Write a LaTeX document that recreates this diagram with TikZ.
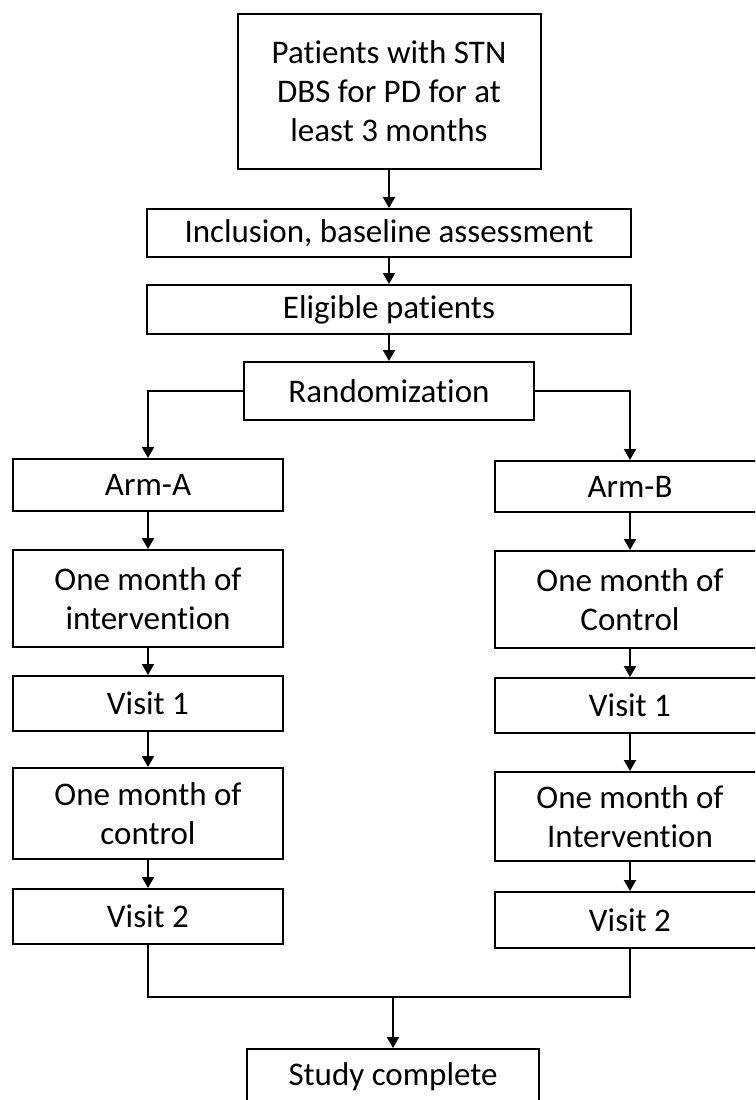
\documentclass[tikz,border=0pt]{standalone}
\usepackage{fontspec}
\setmainfont[Ligatures = CommonOff]{Carlito}
\usetikzlibrary{arrows.meta}

\begin{document}
\begin{tikzpicture}[x = 1pt, y = -1pt, font = \fontsize{33}{39}\selectfont]
	\tikzstyle{boxStyle}=[shape = rectangle, draw, line width = 2pt, inner sep = 0pt, align = center]
	\tikzstyle{lineStyle}=[line width = 2pt]
	\tikzstyle{arrowStyle}=[line width = 2pt, -{Triangle[width = 12pt, length = 11pt]}]
	\useasboundingbox (0, 0) rectangle (755, 1100);
	\clip (0, 0) rectangle (755, 1100);
	\node[boxStyle, minimum width = 303, minimum height = 155] (patients) at (389, 91.5) {Patients with STN\\DBS for PD for at\\least 3 months};
	\node[boxStyle, minimum width = 484, minimum height = 48] (inclusion) at (389, 233) {Inclusion, baseline assessment};
	\node[boxStyle, minimum width = 484, minimum height = 49] (eligible) at (389, 309.5) {Eligible patients};
	\node[boxStyle, minimum width = 290, minimum height = 58] (random) at (389, 391) {Randomization};
	\node[boxStyle, minimum width = 270, minimum height = 52] (armA) at (148, 485) {Arm-A};
	\node[boxStyle, minimum width = 270, minimum height = 97] (monthA1) at (148, 598.5) {One month of\\intervention};
	\node[boxStyle, minimum width = 270, minimum height = 55] (visitA1) at (148, 703.5) {Visit 1};
	\node[boxStyle, minimum width = 270, minimum height = 91] (monthA2) at (148, 813.5) {One month of\\control};
	\node[boxStyle, minimum width = 270, minimum height = 55] (visitA2) at (148, 916.5) {Visit 2};
	\node[boxStyle, minimum width = 270, minimum height = 51] (armB) at (630, 486.5) {Arm-B};
	\node[boxStyle, minimum width = 270, minimum height = 97] (monthB1) at (630, 599.5) {One month of\\Control};
	\node[boxStyle, minimum width = 270, minimum height = 55] (visitB1) at (630, 705.5) {Visit 1};
	\node[boxStyle, minimum width = 270, minimum height = 89] (monthB2) at (630, 816.5) {One month of\\Intervention};
	\node[boxStyle, minimum width = 270, minimum height = 56] (visitB2) at (630, 920) {Visit 2};
	\node[boxStyle, minimum width = 292, minimum height = 56] (study) at (393, 1077) {Study complete};
	\coordinate (join) at (393, 997);
	\draw[arrowStyle] (patients) -- (inclusion);
	\draw[arrowStyle] (inclusion) -- (eligible);
	\draw[arrowStyle] (eligible) -- (random);
	\draw[arrowStyle] (random.west) -| (armA.north);
	\draw[arrowStyle] (random.east) -| (armB.north);
	\draw[arrowStyle] (armA) -- (monthA1);
	\draw[arrowStyle] (monthA1) -- (visitA1);
	\draw[arrowStyle] (visitA1) -- (monthA2);
	\draw[arrowStyle] (monthA2) -- (visitA2);
	\draw[arrowStyle] (armB) -- (monthB1);
	\draw[arrowStyle] (monthB1) -- (visitB1);
	\draw[arrowStyle] (visitB1) -- (monthB2);
	\draw[arrowStyle] (monthB2) -- (visitB2);
	\draw[lineStyle] (visitA2.south) |- (join) -| (visitB2.south);
	\draw[arrowStyle] (join) -- (study);
\end{tikzpicture}
\end{document}
